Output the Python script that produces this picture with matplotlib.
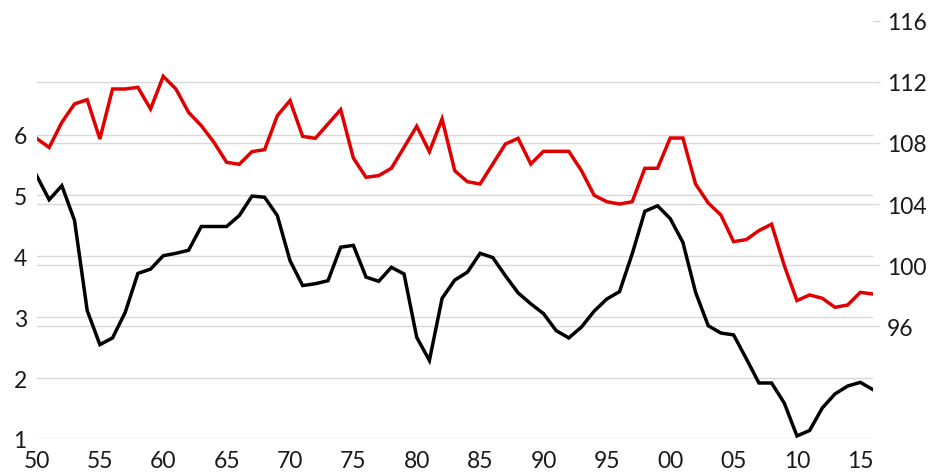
import numpy as np
import matplotlib
matplotlib.use('Agg')
import matplotlib.pyplot as plt

plt.rcParams['font.family'] = ['Lato', 'DejaVu Sans']

years = list(range(1950, 2017))

# black line, left axis
black_vals = [5.33, 4.93, 5.16, 4.59, 3.11, 2.55, 2.66, 3.08, 3.72, 3.79,
              4.01, 4.05, 4.10, 4.49, 4.49, 4.49, 4.67, 4.99, 4.97, 4.67,
              3.93, 3.52, 3.55, 3.60, 4.15, 4.18, 3.66, 3.59, 3.82, 3.71,
              2.67, 2.29, 3.31, 3.61, 3.74, 4.05, 3.98, 3.68, 3.40, 3.22,
              3.06, 2.78, 2.66, 2.84, 3.10, 3.30, 3.42, 4.04, 4.74, 4.83,
              4.62, 4.23, 3.41, 2.86, 2.74, 2.71, 2.32, 1.92, 1.92, 1.59,
              1.05, 1.14, 1.51, 1.74, 1.87, 1.93, 1.81]

# red line, right axis
red_vals = [108.3, 107.7, 109.35, 110.55, 110.83, 108.26, 111.53, 111.53, 111.64, 110.22,
            112.36, 111.53, 110.0, 109.13, 108.04, 106.73, 106.6, 107.43, 107.56, 109.78,
            110.77, 108.43, 108.3, 109.24, 110.18, 107.01, 105.75, 105.86, 106.34, 107.71,
            109.09, 107.43, 109.57, 106.18, 105.46, 105.31, 106.62, 107.93, 108.3, 106.62,
            107.45, 107.45, 107.45, 106.18, 104.57, 104.15, 104.0, 104.15, 106.34, 106.34,
            108.32, 108.32, 105.31, 104.07, 103.28, 101.54, 101.67, 102.26, 102.68, 99.97,
            97.68, 98.05, 97.83, 97.24, 97.39, 98.22, 98.11]

left_ticks = [1, 2, 3, 4, 5, 6]
right_ticks = [96, 100, 104, 108, 112, 116]
label_years = list(range(1950, 2016, 5))
grid_years = [1960, 1970, 1980, 1990, 2000, 2010]

grid_col = '#d9d9d9'
txt_col = '#1a1a1a'
fsize = 16.5

fig = plt.figure(figsize=(9.32, 4.77), dpi=100)
rect = [36.5 / 932, 37 / 477, 836.5 / 932, 418.3 / 477]

# left axis: gridlines + labels
ax = fig.add_axes(rect)
ax.set_xlim(1950, 2016)
ax.set_ylim(1.0, 7.87)
ax.set_yticks(left_ticks)
ax.set_xticks(label_years)
ax.set_xticklabels(['%02d' % (y % 100) for y in label_years])
ax.set_xticks(grid_years, minor=True)
ax.grid(axis='y', color=grid_col, linewidth=1)
ax.grid(axis='x', which='minor', color=grid_col, linewidth=1)
ax.tick_params(axis='y', length=0, pad=7, labelsize=fsize, labelcolor=txt_col)
ax.tick_params(axis='x', which='both', length=0, pad=8, labelsize=fsize, labelcolor=txt_col)
for s in ax.spines.values():
    s.set_visible(False)

# right axis: gridlines + red line
ax2 = ax.twinx()
ax2.set_ylim(88.62, 116)
ax2.set_yticks(right_ticks)
ax2.grid(axis='y', color=grid_col, linewidth=1)
ax2.yaxis.get_gridlines()[-1].set_visible(False)
ax2.tick_params(axis='y', length=5, width=1, color=grid_col, pad=5,
                labelsize=fsize, labelcolor=txt_col)
for s in ax2.spines.values():
    s.set_visible(False)
ax2.plot(years, red_vals, color='#e00000', linewidth=2.5, solid_joinstyle='miter')

# top layer for black line so gridlines stay behind it
ax3 = fig.add_axes(rect, sharex=ax, sharey=ax)
ax3.axis('off')
ax3.plot(years, black_vals, color='black', linewidth=2.5, solid_joinstyle='miter')

fig.savefig('out.png', dpi=100)
